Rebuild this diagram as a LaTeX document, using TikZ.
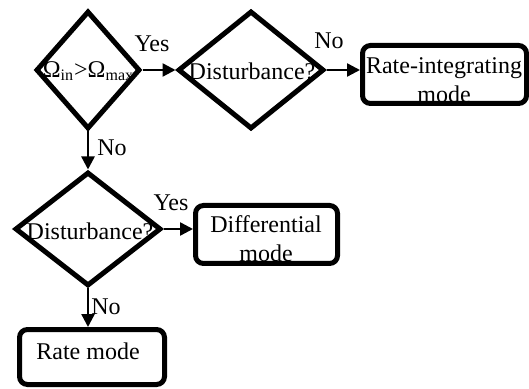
\documentclass[tikz,border=0pt]{standalone}
\usepackage{fontspec}
\setmainfont{Liberation Serif}
\usetikzlibrary{shapes.geometric,arrows.meta}
\tikzset{
  dia/.style={diamond, draw, line width=2.5pt, inner sep=0pt, miter limit=20},
  modebox/.style={rectangle, rounded corners=4pt, draw, line width=2.5pt, inner sep=0pt},
  txt/.style={inner sep=0pt, align=center, font=\fontsize{12}{14.5}\selectfont},
  conn/.style={line width=1.2pt, -{Triangle[length=6.5pt,width=6.5pt]}}
}
\begin{document}
\begin{tikzpicture}[x=0.5pt,y=-0.5pt]
\useasboundingbox (0,0) rectangle (529,389);
% diamonds
\node[dia, minimum width=52pt, minimum height=59pt] (d1) at (88,70) {};
\node[dia, minimum width=73pt, minimum height=59pt] (d2) at (251,70) {};
\node[dia, minimum width=73pt, minimum height=57pt] (d3) at (88,229) {};
% boxes
\node[modebox, minimum width=82pt, minimum height=29pt] (b1) at (444.5,74.5) {};
\node[modebox, minimum width=71pt, minimum height=29pt] (b2) at (266.5,234.5) {};
\node[modebox, minimum width=72.5pt, minimum height=27.5pt] (b3) at (92,357) {};
% texts
\node[txt] (t1) at (88.5,71) {Ω\textsubscript{in}>Ω\textsubscript{max}};
\node[txt] (t2) at (252,71) {Disturbance?};
\node[txt] (t3) at (90,231) {Disturbance?};
\node[txt] (t4) at (444,80) {Rate-integrating\\mode};
\node[txt] (t5) at (266,239) {Differential\\mode};
\node[txt] (t6) at (88,351) {Rate mode};
% labels
\node[txt] (l1) at (152,44) {Yes};
\node[txt] (l2) at (329,41) {No};
\node[txt] (l3) at (112,148) {No};
\node[txt] (l4) at (171,203) {Yes};
\node[txt] (l5) at (106,307) {No};
% connectors
\draw[conn] (d1.east) -- (d2.west);
\draw[conn] (d2.east) -- (d2.east -| b1.west);
\draw[conn] (d1.south) -- (d3.north);
\draw[conn] (d3.east) -- (d3.east -| b2.west);
\draw[conn] (d3.south) -- (d3.south |- b3.north);
\end{tikzpicture}
\end{document}
